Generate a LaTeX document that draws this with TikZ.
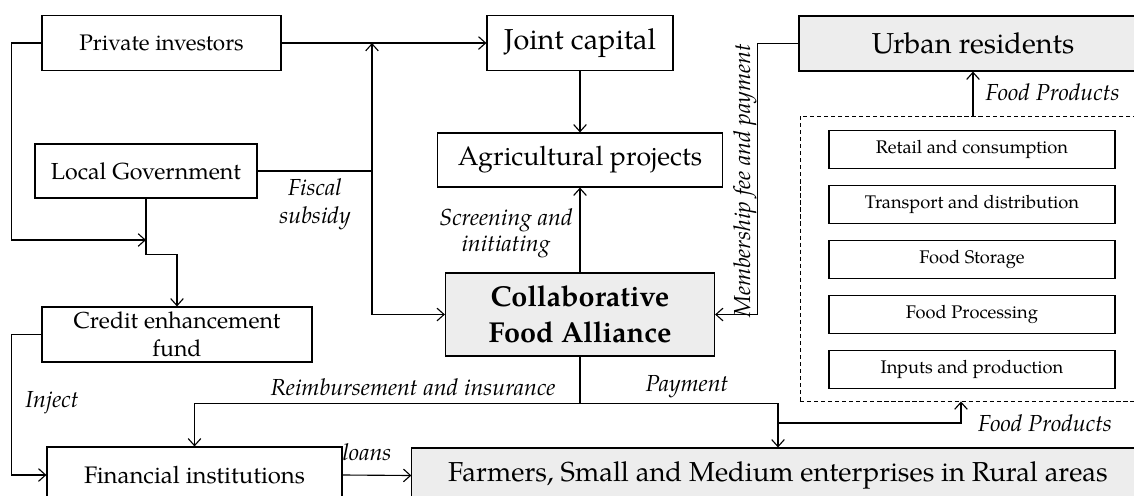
\documentclass[tikz,border=0pt]{standalone}
\usepackage{fontspec}
\setmainfont{TeX Gyre Pagella}
\usetikzlibrary{arrows.meta}

\begin{document}
\begin{tikzpicture}[x=0.025cm,y=-0.025cm,
  line width=0.8pt,
  box/.style={draw,inner sep=0pt,align=center},
  grey/.style={box,fill=black!7},
  stage/.style={box,minimum width=7.15cm,minimum height=0.95cm,font=\fontsize{13}{15}\selectfont},
  lbl/.style={inner sep=0pt,align=center,font=\fontsize{16.5}{19.5}\selectfont\itshape},
  arr/.style={-{Straight Barb[length=5pt,width=9pt]}}]
\clip (0,0) rectangle (1134,495);
\fill[white] (0,0) rectangle (1134,495);

% left column
\node[box,minimum width=5.975cm,minimum height=1.375cm,font=\fontsize{16}{19}\selectfont] (inv) at (161.5,43) {Private investors};
\node[box,minimum width=5.55cm,minimum height=1.35cm,font=\fontsize{16.5}{19}\selectfont] (gov) at (146,171) {Local Government};
\node[box,minimum width=6.75cm,minimum height=1.375cm,font=\fontsize{16.4}{20}\selectfont] (credit) at (177,334.5) {Credit enhancement\\fund};
\node[box,minimum width=7.375cm,minimum height=1.4cm,font=\fontsize{17}{21}\selectfont] (fin) at (194.5,475) {Financial institutions};

% middle column
\node[box,minimum width=4.65cm,minimum height=1.375cm,font=\fontsize{20.5}{24}\selectfont] (joint) at (580,43) {Joint capital};
\node[box,minimum width=7.125cm,minimum height=1.35cm,font=\fontsize{19}{22}\selectfont] (agri) at (580,160) {Agricultural projects};
\node[grey,minimum width=6.725cm,minimum height=2.075cm,font=\fontsize{20.5}{25.5}\selectfont\bfseries] (cfa) at (580,314.5) {Collaborative\\Food Alliance};
\node[grey,minimum width=18.45cm,minimum height=1.375cm,font=\fontsize{19.5}{22}\selectfont] (farm) at (781,475.5) {\hspace*{-0.15cm}Farmers, Small and Medium enterprises in Rural areas};

% right column
\node[grey,minimum width=8.7cm,minimum height=1.375cm,font=\fontsize{20.5}{24}\selectfont] (urban) at (973,43.5) {Urban residents};
\node[draw,dash pattern=on 3pt off 2pt,line width=0.6pt,inner sep=0pt,minimum width=8.65cm,minimum height=7.125cm] (chain) at (973,258.5) {};
\foreach \name/\txt [count=\i from 0] in {retail/Retail and consumption,transport/Transport and distribution,storage/Food Storage,processing/Food Processing,inputs/Inputs and production}
  \node[stage] (\name) at (972,149.5+55*\i) {\txt};

% junctions
\coordinate (gj) at (146,240);
\coordinate (sub) at (372,171);
\coordinate (pay) at (778,423);

% flows
\draw[arr] (inv.east) -- (joint.west);
\draw[arr] (inv.west) -- ++(-30,0) |- (gj);
\draw[arr] (gov.south) -- ++(0,56) -| (credit.north);
\draw (gov.east) -- (sub);
\draw[arr] (sub) -- (sub |- inv.east);
\draw[arr] (sub) |- (cfa.west);
\draw[arr] (joint.south) -- (agri.north);
\draw[arr] (cfa.north) -- (agri.south);
\draw[arr] (urban.west) -- ++(-41,0) |- (cfa.east);
\draw[arr] (chain.north) -- (urban.south);
\draw[arr] (cfa.south) -- ++(0,47) -| (fin.north);
\draw[arr] (cfa.south) -- ++(0,47) -| (pay |- farm.north);
\draw[arr] (pay) -| ([xshift=-0.3cm]chain.south);
\draw[arr] (credit.west) -- ++(-30,0) |- (fin.west);
\draw[arr] (fin.east) -- (farm.west);

% labels
\node[lbl,font=\fontsize{16.5}{20}\selectfont\itshape] (fiscal) at (315,204) {Fiscal\\subsidy};
\node[lbl,font=\fontsize{16.5}{18.5}\selectfont\itshape] (screen) at (506,233) {Screening and\\initiating};
\node[lbl,rotate=90] (member) at (745,181) {Membership fee and payment};
\node[lbl] (reimb) at (413,387) {Reimbursement and insurance};
\node[lbl] (payment) at (687,387) {Payment};
\node[lbl] (inject) at (52,403) {Inject};
\node[lbl] (loans) at (367,452) {loans};
\node[lbl,anchor=west] (prodtop) at (985,92) {Food Products};
\node[lbl] (prodlow) at (1045,423) {Food Products};
\end{tikzpicture}
\end{document}
